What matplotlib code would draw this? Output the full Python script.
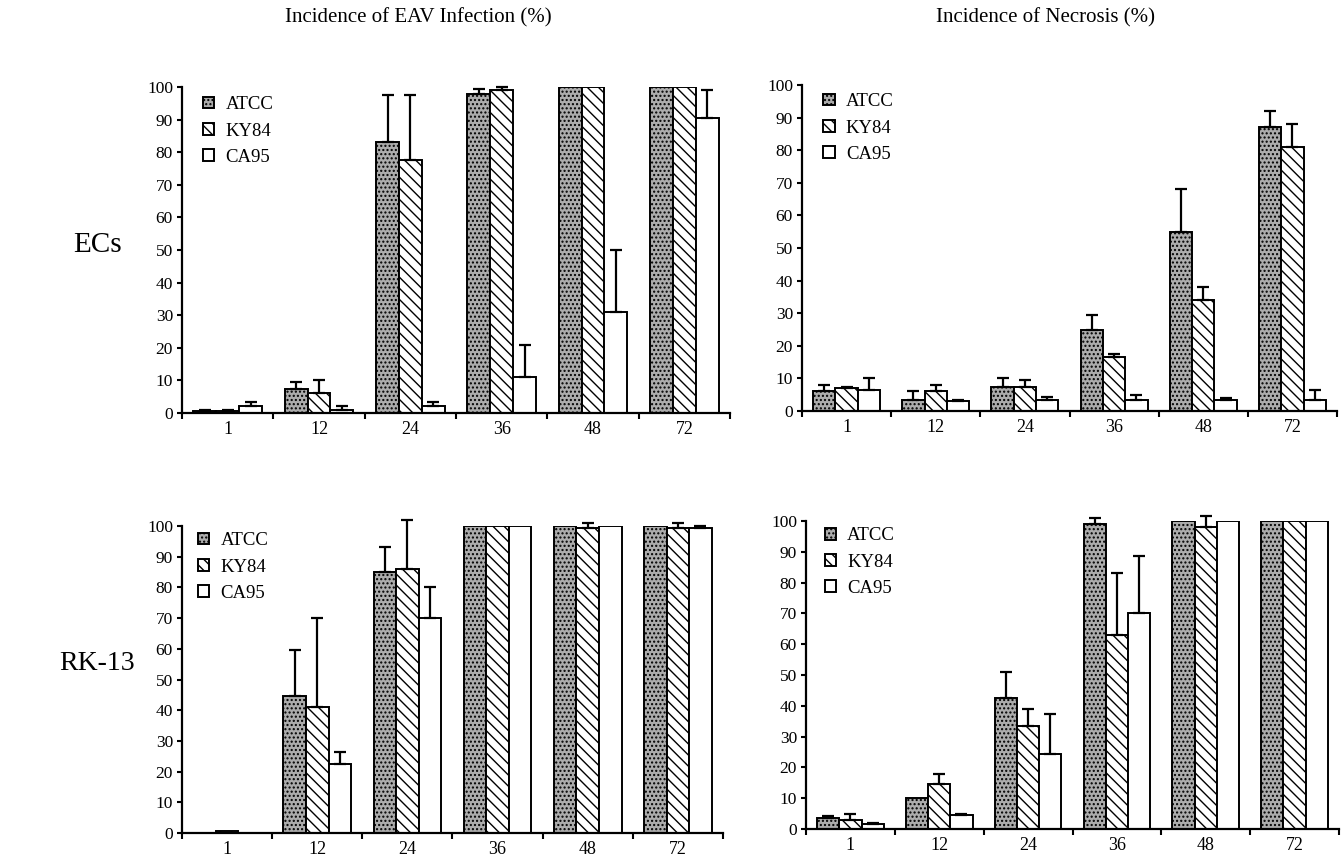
import numpy as np
import matplotlib
matplotlib.use("Agg")
import matplotlib.pyplot as plt

plt.rcParams['font.family'] = ['Liberation Serif', 'DejaVu Serif']
plt.rcParams['hatch.linewidth'] = 1.0

timepoints = ['1', '12', '24', '36', '48', '72']
strains = ['ATCC', 'KY84', 'CA95']

# ECs - incidence of EAV infection (%)
ec_inf_atcc = [0.5, 7.5, 83, 98, 100, 100]
ec_inf_atcc_err = [0.5, 2, 14.5, 1.5, 0, 0]
ec_inf_ky84 = [0.5, 6, 77.5, 99, 100, 100]
ec_inf_ky84_err = [0.5, 4, 20, 1, 0, 0]
ec_inf_ca95 = [2, 1, 2, 11, 31, 90.5]
ec_inf_ca95_err = [1.3, 1, 1.5, 10, 19, 8.5]

# ECs - incidence of necrosis (%)
ec_nec_atcc = [6, 3.5, 7.5, 25, 55, 87]
ec_nec_atcc_err = [2, 2.5, 2.5, 4.5, 13, 5]
ec_nec_ky84 = [7, 6, 7.5, 16.5, 34, 81]
ec_nec_ky84_err = [0.5, 2, 2, 1, 4, 7]
ec_nec_ca95 = [6.5, 3, 3.5, 3.5, 3.5, 3.5]
ec_nec_ca95_err = [3.5, 0.5, 0.7, 1.5, 0.5, 3]

# RK-13 - incidence of EAV infection (%)
rk_inf_atcc = [0, 44.5, 85, 100, 100, 100]
rk_inf_atcc_err = [0, 15, 8, 0, 0, 0]
rk_inf_ky84 = [0.5, 41, 86, 100, 99.5, 99.5]
rk_inf_ky84_err = [0, 29, 16, 0, 1.5, 1.5]
rk_inf_ca95 = [0, 22.5, 70, 100, 100, 99.5]
rk_inf_ca95_err = [0, 4, 10, 0, 0, 0.5]

# RK-13 - incidence of necrosis (%)
rk_nec_atcc = [3.5, 10, 42.5, 99, 100, 100]
rk_nec_atcc_err = [0.7, 0, 8.5, 2, 0, 0]
rk_nec_ky84 = [3, 14.5, 33.5, 63, 98, 100]
rk_nec_ky84_err = [2, 3.5, 5.5, 20, 3.5, 0]
rk_nec_ca95 = [1.5, 4.5, 24.5, 70, 100, 100]
rk_nec_ca95_err = [0.5, 0.5, 13, 18.5, 0, 0]

styles = [
    dict(facecolor='#acacac', hatch='....'),
    dict(facecolor='white', hatch='\\\\\\'),
    dict(facecolor='white', hatch=''),
]

W, H = 1343, 857
fig = plt.figure(figsize=(W / 100, H / 100), dpi=100)


def px_axes(x0, y0, x1, y1):
    return fig.add_axes([x0 / W, 1 - y1 / H, (x1 - x0) / W, (y1 - y0) / H])


def draw_panel(ax, data, errs, leg_anchor):
    x = np.arange(len(timepoints))
    bw = 0.25
    handles = []
    for i, (vals, er, st) in enumerate(zip(data, errs, styles)):
        pos = x + (i - 1) * bw
        b = ax.bar(pos, vals, bw, edgecolor='black', linewidth=1.4,
                   label=strains[i], zorder=2, **st)
        handles.append(b)
        vals = np.asarray(vals, float)
        er = np.asarray(er, float)
        m = er > 0
        if m.any():
            eb = ax.errorbar(pos[m], vals[m], yerr=[np.zeros(m.sum()), er[m]],
                             fmt='none', ecolor='black', elinewidth=1.6,
                             capsize=4, capthick=1.6, zorder=3)
            for art in eb.lines[1]:
                art.set_clip_on(False)
            for art in eb.lines[2]:
                art.set_clip_on(False)
    ax.set_xlim(-0.5, len(timepoints) - 0.5)
    ax.set_ylim(0, 100)
    ax.set_yticks(np.arange(0, 101, 10))
    ax.set_xticks(x)
    ax.set_xticklabels(timepoints, fontsize=13)
    ax.set_xticks(np.arange(-0.5, len(timepoints), 1.0), minor=True)
    ax.tick_params(axis='x', which='major', length=0, pad=6)
    ax.tick_params(axis='x', which='minor', length=4.5, width=1.5, direction='out')
    ax.tick_params(axis='y', which='major', length=3.5, width=1.5, direction='out',
                   labelsize=12.5, pad=3)
    for s in ['top', 'right']:
        ax.spines[s].set_visible(False)
    for s in ['left', 'bottom']:
        ax.spines[s].set_linewidth(1.6)
    ax.patch.set_visible(False)
    ax.legend(handles=handles, loc='upper left', bbox_to_anchor=leg_anchor,
              frameon=False, fontsize=13.5, handlelength=0.6, handleheight=0.6,
              handletextpad=0.6, labelspacing=0.5, borderpad=0, borderaxespad=0)


ax1 = px_axes(182, 87, 730, 413)
draw_panel(ax1, [ec_inf_atcc, ec_inf_ky84, ec_inf_ca95],
           [ec_inf_atcc_err, ec_inf_ky84_err, ec_inf_ca95_err], (0.038, 0.972))
ax2 = px_axes(802, 85, 1337, 411)
draw_panel(ax2, [ec_nec_atcc, ec_nec_ky84, ec_nec_ca95],
           [ec_nec_atcc_err, ec_nec_ky84_err, ec_nec_ca95_err], (0.04, 0.975))
ax3 = px_axes(182, 526, 723, 833)
draw_panel(ax3, [rk_inf_atcc, rk_inf_ky84, rk_inf_ca95],
           [rk_inf_atcc_err, rk_inf_ky84_err, rk_inf_ca95_err], (0.03, 0.98))
ax4 = px_axes(806, 521, 1339, 829)
draw_panel(ax4, [rk_nec_atcc, rk_nec_ky84, rk_nec_ca95],
           [rk_nec_atcc_err, rk_nec_ky84_err, rk_nec_ca95_err], (0.035, 0.98))

fig.text(418 / W, 1 - 18 / H, 'Incidence of EAV Infection (%)', ha='center',
         va='center', fontsize=15)
fig.text(1046 / W, 1 - 18 / H, 'Incidence of Necrosis (%)', ha='center',
         va='center', fontsize=15)
fig.text(97 / W, 1 - 245 / H, 'ECs', ha='center', va='center', fontsize=21)
fig.text(97 / W, 1 - 663 / H, 'RK-13', ha='center', va='center', fontsize=20)

fig.savefig('out.png', dpi=100)
